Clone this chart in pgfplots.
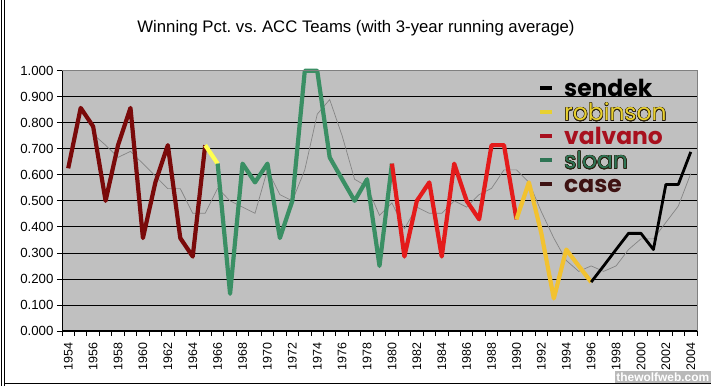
\documentclass[border=0pt]{standalone}
\usepackage{pgfplots}
\pgfplotsset{compat=1.18}
\usepackage{fontspec}
\usepackage{contour}
\contournumber{16}
\setmainfont{Liberation Sans}
\newfontfamily\legfont{Poppins}
\definecolor{bggray}{HTML}{C0C0C0}
\definecolor{casec}{HTML}{7A0A0A}
\definecolor{sloanc}{HTML}{3A8F64}
\definecolor{valvc}{HTML}{E41B1B}
\definecolor{robc}{HTML}{F2C230}
\definecolor{marc}{HTML}{FFFF50}
\definecolor{avgc}{HTML}{858585}
\definecolor{lsendek}{HTML}{000000}
\definecolor{lrob}{HTML}{E8D030}
\definecolor{lvalv}{HTML}{A8101E}
\definecolor{lsloan}{HTML}{2F7555}
\definecolor{lcase}{HTML}{3E1212}
\definecolor{outl}{HTML}{2A2010}
\begin{document}
\begin{tikzpicture}
\path[use as bounding box, fill=white] (0,0) rectangle (711bp,386bp);
\begin{axis}[
  at={(62bp,55bp)}, anchor=south west,
  scale only axis, width=635bp, height=260.3bp,
  xmin=1953.5, xmax=2004.5, ymin=0, ymax=1,
  axis background/.style={fill=bggray},
  axis line style={draw=none},
  ytick={0,0.1,...,1.0},
  ymajorgrids, major grid style={black, line width=0.8bp},
  yticklabel style={font=\fontsize{13.3}{13.3}\selectfont, /pgf/number format/.cd, fixed, fixed zerofill, precision=3, assume math mode=true},
  xtick={1954,1956,...,2004},
  xticklabels={1954,1956,1958,1960,1962,1964,1966,1968,1970,1972,1974,1976,1978,1980,1982,1984,1986,1988,1990,1992,1994,1996,1998,2000,2002,2004},
  xticklabel style={rotate=90, anchor=east, xshift=-3bp, font=\fontsize{12.5}{12.5}\selectfont},
  minor xtick={1953.5,1954.5,...,2004.5},
  tick align=outside, ytick pos=left, xtick pos=bottom,
  major tick length=5bp, minor tick length=5bp,
  tick style={black, line width=0.8bp},
  major x tick style={draw=none},
  clip=false,
]
% running average
\addplot[avgc, line width=0.7bp] coordinates {
(1956,0.756)(1957,0.714)(1958,0.667)(1959,0.690)(1960,0.643)(1961,0.595)(1962,0.547)(1963,0.547)(1964,0.452)(1965,0.452)
(1966,0.548)(1967,0.500)(1968,0.476)(1969,0.452)(1970,0.619)(1971,0.524)(1972,0.500)(1973,0.619)(1974,0.833)(1975,0.889)
(1976,0.750)(1977,0.583)(1978,0.555)(1979,0.444)(1980,0.492)(1981,0.393)(1982,0.476)(1983,0.452)(1984,0.452)(1985,0.500)
(1986,0.476)(1987,0.524)(1988,0.548)(1989,0.619)(1990,0.619)(1991,0.571)(1992,0.458)(1993,0.357)(1994,0.271)(1995,0.229)
(1996,0.250)(1997,0.229)(1998,0.250)(1999,0.313)(2000,0.354)(2001,0.354)(2002,0.417)(2003,0.480)(2004,0.605)};
% case
\addplot[casec, line width=4.2bp, line join=round] coordinates {
(1954,0.625)(1955,0.857)(1956,0.786)(1957,0.500)(1958,0.714)(1959,0.857)(1960,0.357)(1961,0.571)(1962,0.714)(1963,0.357)(1964,0.286)(1965,0.714)};
% maravich
\addplot[marc, line width=4.2bp, line join=round] coordinates {(1965,0.714)(1966,0.643)};
% sloan
\addplot[sloanc, line width=4.2bp, line join=round] coordinates {
(1966,0.643)(1967,0.143)(1968,0.643)(1969,0.571)(1970,0.643)(1971,0.357)(1972,0.500)(1973,1.000)(1974,1.000)(1975,0.667)(1976,0.583)(1977,0.500)(1978,0.583)(1979,0.250)(1980,0.643)};
% valvano
\addplot[valvc, line width=4.2bp, line join=round] coordinates {
(1980,0.643)(1981,0.286)(1982,0.500)(1983,0.571)(1984,0.286)(1985,0.643)(1986,0.500)(1987,0.429)(1988,0.714)(1989,0.714)(1990,0.429)};
% robinson
\addplot[robc, line width=4.2bp, line join=round] coordinates {
(1990,0.429)(1991,0.571)(1992,0.375)(1993,0.125)(1994,0.313)(1995,0.250)(1996,0.188)};
% sendek
\addplot[black, line width=2.8bp, line join=round] coordinates {
(1996,0.188)(1997,0.250)(1998,0.313)(1999,0.375)(2000,0.375)(2001,0.313)(2002,0.563)(2003,0.563)(2004,0.688)};
% frame
\draw[black, line width=1bp] (rel axis cs:0,1) -- (rel axis cs:0,0) -- (rel axis cs:1,0);
\draw[gray, line width=1bp] (rel axis cs:0,1) -- (rel axis cs:1,1) -- (rel axis cs:1,0);
\end{axis}
% title
\node[anchor=base, font=\fontsize{16.8}{16.8}\selectfont] at (356bp,353bp) {Winning Pct.\ vs.\ ACC Teams (with 3-year running average)};
% legend
\foreach \c/\yy in {lsendek/289, lrob/265, lvalv/241, lsloan/217, lcase/193} {
  \draw[\c, line width=3.5bp] (540bp,\yy bp+9bp) -- (552bp,\yy bp+9bp);
}
\tikzset{legtext/.style={anchor=base west, inner sep=0pt, font=\legfont\fontsize{23.5}{23.5}\selectfont}}
\node[legtext, font=\legfont\bfseries\fontsize{23.5}{23.5}\selectfont] at (564bp,289bp) {sendek};
\node[legtext] at (564bp,265bp) {\contourlength{0.45pt}\color{lrob}\contour{outl}{robinson}};
\node[legtext, text=lvalv, font=\legfont\bfseries\fontsize{23.5}{23.5}\selectfont] at (564bp,241bp) {valvano};
\node[legtext] at (564bp,217bp) {\contourlength{0.45pt}\color{lsloan}\contour{outl}{sloan}};
\node[legtext, text=lcase, font=\legfont\bfseries\fontsize{23.5}{23.5}\selectfont] at (564bp,193bp) {case};
% chart border
\draw[black, line width=1.2bp] (4.5bp,0) -- (4.5bp,386bp);
\draw[black, line width=0.6bp] (1.5bp,0) -- (1.5bp,386bp);
\draw[black, line width=1.2bp] (4.5bp,2.5bp) -- (711bp,2.5bp);
% watermark
\node[anchor=south east, fill=gray!55, text=white, inner sep=1.5bp, font=\bfseries\fontsize{12}{12}\selectfont] at (711bp,3bp) {thewolfweb.com};
\end{tikzpicture}
\end{document}
